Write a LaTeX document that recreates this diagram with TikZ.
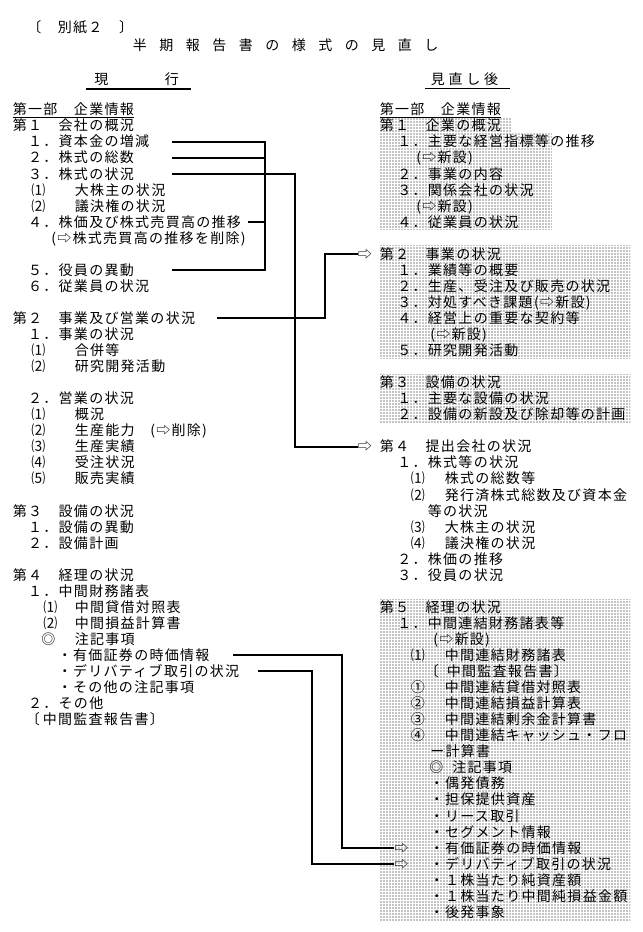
\documentclass[tikz,border=0pt]{standalone}
\usepackage{fontspec}
\usetikzlibrary{patterns.meta}
\newfontfamily\jp[LetterSpace=9.3]{Noto Sans CJK JP}
\newcommand\jpfont{\jp\fontsize{10.5pt}{12pt}\selectfont}
\newlength\pxl \setlength\pxl{0.75pt}
\newcommand\symbox[2]{\makebox[#1\pxl][l]{#2}}
\begin{document}
\begin{tikzpicture}[x=0.75pt, y=-12.0375pt, font=\jpfont,
		txt/.style={anchor=base west, inner sep=0pt, yshift=-4pt},
		enlace/.style={line width=1.5pt},
		subr/.style={line width=1pt},
		trama/.style={pattern={Dots[distance=2.25pt, radius=0.5pt]}, pattern color=black}]
	\useasboundingbox (0,-6.822) rectangle (642,51.246);
	% sombreado de lo nuevo
	\fill[trama] (379,0.5) -- (512,0.5) -- (512,1.5) -- (552,1.5) -- (552,7.5) -- (379,7.5) -- cycle;
	\fill[trama] (379,8.5) rectangle (630,15.5);
	\fill[trama] (379,16.5) rectangle (630,19.5);
	\fill[trama] (379,30.5) rectangle (630,50.5);

	% cabecera
	\node[txt] (bessi) at (27,-5.1) {〔　別紙２　〕};
	\node[txt, font={\jpfont\addfontfeature{LetterSpace=89.3}}] (titulo) at (132.5,-3.98) {半期報告書の様式の見直し};
	\node[txt] (genko) at (94,-1.875) {現\hspace{42.5pt}行};
	\node[txt, font={\jpfont\addfontfeature{LetterSpace=27}}] (minaoshi) at (430.5,-1.875) {見直し後};
	\draw[subr] ([shift={(-5.7pt,-2pt)}]genko.south west) -- ([shift={(9pt,-2pt)}]genko.south east);
	\draw[subr] ([shift={(-4.1pt,-2pt)}]minaoshi.south west) -- ([shift={(9pt,-2pt)}]minaoshi.south east);

	% columna actual
	\node[txt] (L0) at (12.5,0) {第一部　企業情報};
	\node[txt] (L1) at (12.5,1) {第１　会社の概況};
	\node[txt] (L2) at (27.8,2) {１．資本金の増減};
	\node[txt] (L3) at (27.8,3) {２．株式の総数};
	\node[txt] (L4) at (27.8,4) {３．株式の状況};
	\node[txt] (L5) at (31,5) {\symbox{43.5}{⑴}大株主の状況};
	\node[txt] (L6) at (31,6) {\symbox{43.5}{⑵}議決権の状況};
	\node[txt] (L7) at (27.8,7) {４．株価及び株式売買高の推移};
	\node[txt] (L8) at (51,8) {(⇨株式売買高の推移を削除)};
	\node[txt] (L10) at (27.8,10) {５．役員の異動};
	\node[txt] (L11) at (27.8,11) {６．従業員の状況};
	\node[txt] (L13) at (12.5,13) {第２　事業及び営業の状況};
	\node[txt] (L14) at (27.8,14) {１．事業の状況};
	\node[txt] (L15) at (31,15) {\symbox{43.5}{⑴}合併等};
	\node[txt] (L16) at (31,16) {\symbox{43.5}{⑵}研究開発活動};
	\node[txt] (L18) at (27.8,18) {２．営業の状況};
	\node[txt] (L19) at (31,19) {\symbox{43.5}{⑴}概況};
	\node[txt] (L20) at (31,20) {\symbox{43.5}{⑵}\symbox{75.5}{生産能力}(⇨削除)};
	\node[txt] (L21) at (31,21) {\symbox{43.5}{⑶}生産実績};
	\node[txt] (L22) at (31,22) {\symbox{43.5}{⑷}受注状況};
	\node[txt] (L23) at (31,23) {\symbox{43.5}{⑸}販売実績};
	\node[txt] (L25) at (12.5,25) {第３　設備の状況};
	\node[txt] (L26) at (27.8,26) {１．設備の異動};
	\node[txt] (L27) at (27.8,27) {２．設備計画};
	\node[txt] (L29) at (12.5,29) {第４　経理の状況};
	\node[txt] (L30) at (27.8,30) {１．中間財務諸表};
	\node[txt] (L31) at (43,31) {\symbox{31.5}{⑴}中間貸借対照表};
	\node[txt] (L32) at (43,32) {\symbox{31.5}{⑵}中間損益計算書};
	\node[txt] (L33) at (41,33) {\symbox{33.5}{◎}注記事項};
	\node[txt] (L34) at (57.5,34) {・有価証券の時価情報};
	\node[txt] (L35) at (57.5,35) {・デリバティブ取引の状況};
	\node[txt] (L36) at (57.5,36) {・その他の注記事項};
	\node[txt] (L37) at (27.8,37) {２．その他};
	\node[txt] (L38) at (25.5,38) {\symbox{17}{〔}中間監査報告書〕};
	\draw[subr] ([yshift=-0.7pt]L0.south west) -- ([yshift=-0.7pt]L0.south east);

	% columna revisada
	\node[txt] (R0) at (379.5,0) {第一部　企業情報};
	\node[txt] (R1) at (379.5,1) {第１　企業の概況};
	\node[txt] (R2) at (397,2) {１．主要な経営指標等の推移};
	\node[txt] (R3) at (416,3) {(⇨新設)};
	\node[txt] (R4) at (397,4) {２．事業の内容};
	\node[txt] (R5) at (397,5) {３．関係会社の状況};
	\node[txt] (R6) at (416,6) {(⇨新設)};
	\node[txt] (R7) at (397,7) {４．従業員の状況};
	\node[txt] (R9) at (379.5,9) {第２　事業の状況};
	\node[txt] (R10) at (397,10) {１．業績等の概要};
	\node[txt] (R11) at (397,11) {２．生産、受注及び販売の状況};
	\node[txt] (R12) at (397,12) {３．対処すべき課題(⇨新設)};
	\node[txt] (R13) at (397,13) {４．経営上の重要な契約等};
	\node[txt] (R14) at (430,14) {(⇨新設)};
	\node[txt] (R15) at (397,15) {５．研究開発活動};
	\node[txt] (R17) at (379.5,17) {第３　設備の状況};
	\node[txt] (R18) at (397,18) {１．主要な設備の状況};
	\node[txt] (R19) at (397,19) {２．設備の新設及び除却等の計画};
	\node[txt] (R21) at (379.5,21) {第４　提出会社の状況};
	\node[txt] (R22) at (397,22) {１．株式等の状況};
	\node[txt] (R23) at (410.5,23) {\symbox{34}{⑴}株式の総数等};
	\node[txt] (R24) at (410.5,24) {\symbox{34}{⑵}発行済株式総数及び資本金};
	\node[txt] (R25) at (427.5,25) {等の状況};
	\node[txt] (R26) at (410.5,26) {\symbox{34}{⑶}大株主の状況};
	\node[txt] (R27) at (410.5,27) {\symbox{34}{⑷}議決権の状況};
	\node[txt] (R28) at (397,28) {２．株価の推移};
	\node[txt] (R29) at (397,29) {３．役員の状況};
	\node[txt] (R31) at (379.5,31) {第５　経理の状況};
	\node[txt] (R32) at (397,32) {１．中間連結財務諸表等};
	\node[txt] (R33) at (433,33) {(⇨新設)};
	\node[txt] (R34) at (410.5,34) {\symbox{34}{⑴}中間連結財務諸表};
	\node[txt] (R35) at (424.5,35) {\symbox{22}{〔}中間監査報告書〕};
	\node[txt] (R36) at (410.5,36) {\symbox{34}{①}中間連結貸借対照表};
	\node[txt] (R37) at (410.5,37) {\symbox{34}{②}中間連結損益計算表};
	\node[txt] (R38) at (410.5,38) {\symbox{34}{③}中間連結剰余金計算書};
	\node[txt] (R39) at (410.5,39) {\symbox{34}{④}中間連結キャッシュ・フロ};
	\node[txt] (R40) at (430,40) {ー計算書};
	\node[txt] (R41) at (429,41) {\symbox{23}{◎}注記事項};
	\node[txt] (R42) at (429.5,42) {・偶発債務};
	\node[txt] (R43) at (429.5,43) {・担保提供資産};
	\node[txt] (R44) at (429.5,44) {・リース取引};
	\node[txt] (R45) at (429.5,45) {・セグメント情報};
	\node[txt] (R46) at (429.5,46) {・有価証券の時価情報};
	\node[txt] (R47) at (429.5,47) {・デリバティブ取引の状況};
	\node[txt] (R48) at (429.5,48) {・１株当たり純資産額};
	\node[txt] (R49) at (429.5,49) {・１株当たり中間純損益金額};
	\node[txt] (R50) at (429.5,50) {・後発事象};
	\draw[subr] ([yshift=-0.7pt]R0.south west) -- ([yshift=-0.7pt]R0.south east);

	% flechas de destino
	\node[txt] (a2) at (357.5,9) {⇨};
	\node[txt] (a4) at (357.5,21) {⇨};
	\node[txt] (a46) at (394,46) {⇨};
	\node[txt] (a47) at (394,47) {⇨};

	% conexiones
	\coordinate (stA) at (172,0);
	\coordinate (stB) at (248,0);
	\coordinate (stC) at (217,0);
	\coordinate (stD) at (233,0);
	\coordinate (stE) at (258,0);
	\coordinate (vA) at (265,0);
	\coordinate (vB) at (295,0);
	\coordinate (vC) at (325,0);
	\coordinate (vD) at (341.7,0);
	\coordinate (vE) at (311.7,0);
	\draw[enlace] (L2 -| stA) -- (L2 -| vA) -- (L10 -| vA) -- (L10 -| stA);
	\draw[enlace] (L3 -| stA) -- (L3 -| vA);
	\draw[enlace] (L7 -| stB) -- (L7 -| vA);
	\draw[enlace] (L4 -| stA) -- (L4 -| vB) |- (a4.west);
	\draw[enlace] (L13 -| stC) -- (L13 -| vC) |- (a2.west);
	\draw[enlace] (L34 -| stD) -- (L34 -| vD) |- (a46.west);
	\draw[enlace] (L35 -| stE) -- (L35 -| vE) |- (a47.west);
\end{tikzpicture}
\end{document}
